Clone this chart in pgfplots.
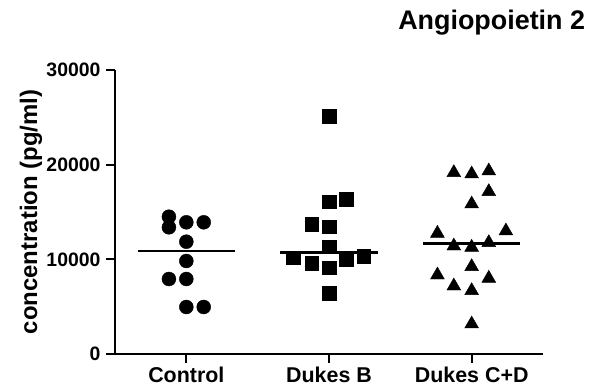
\documentclass[border=0pt]{standalone}
\usepackage{pgfplots}
\usepackage{pgfplotstable}
\pgfplotsset{compat=1.18}
\usepackage{fontspec}
\setmainfont{Liberation Sans}

\pgfplotstableread{
x y
-0.122 14504
-0.122 13384
0 13912
0.122 13912
0 11863
0 9824
-0.122 7923
0 7923
0 4965
0.122 4965
}\control

\pgfplotstableread{
x y
1 25141
1 16088
1.122 16338
0.878 13732
1 13451
1 11338
0.751 10176
0.878 9577
1.122 10000
1.244 10352
1 9120
1 6408
}\dukesb

\pgfplotstableread{
x y
1.875 19155
2 19014
2.12 19331
2.12 17148
2 15845
1.76 12746
2.24 12993
1.875 11408
2 11268
2.12 11761
2 9225
1.76 8345
2.12 7993
1.875 7183
2 6690
2 3169
}\dukescd

\begin{document}
\begin{tikzpicture}
\path[use as bounding box] (0,0) rectangle (594bp,385bp);
\begin{axis}[
  at={(115bp,31bp)}, anchor=south west,
  width=428bp, height=284bp, scale only axis,
  xmin=-0.5, xmax=2.5, ymin=0, ymax=30000,
  axis lines=left,
  axis line style={-, line width=1.8pt},
  tick style={line width=1.8pt, black},
  tick align=outside,
  major tick length=9bp,
  xtick={0,1,2},
  xticklabels={Control,Dukes B,Dukes C+D},
  ytick={0,10000,20000,30000},
  scaled y ticks=false,
  /pgf/number format/assume math mode=true,
  /pgf/number format/1000 sep={},
  yticklabel style={font=\fontsize{19.5}{21}\selectfont\bfseries, xshift=-2bp},
  xticklabel style={font=\fontsize{21.5}{23}\selectfont\bfseries},
  ylabel={concentration (pg/ml)},
  ylabel style={font=\fontsize{24}{26}\selectfont\bfseries, at={(axis description cs:-0.196,0.5)}, anchor=center},
  title={Angiopoietin 2},
  title style={font=\fontsize{27}{29}\selectfont\bfseries, at={(axis description cs:0.88,1)}, anchor=base, yshift=35bp},
  clip=false,
]
\addplot[only marks, mark=*, mark size=7bp, black] table[x=x,y=y]{\control};
\addplot[only marks, mark=square*, mark size=6.8bp, black] table[x=x,y=y]{\dukesb};
\addplot[only marks, mark=triangle*, mark size=8bp, black] table[x=x,y=y]{\dukescd};
\addplot[black, line width=2.5bp] coordinates {(-0.34,10880) (0.34,10880)};
\addplot[black, line width=2.5bp] coordinates {(0.66,10704) (1.34,10704)};
\addplot[black, line width=2.5bp] coordinates {(1.66,11690) (2.34,11690)};
\end{axis}
\end{tikzpicture}
\end{document}
